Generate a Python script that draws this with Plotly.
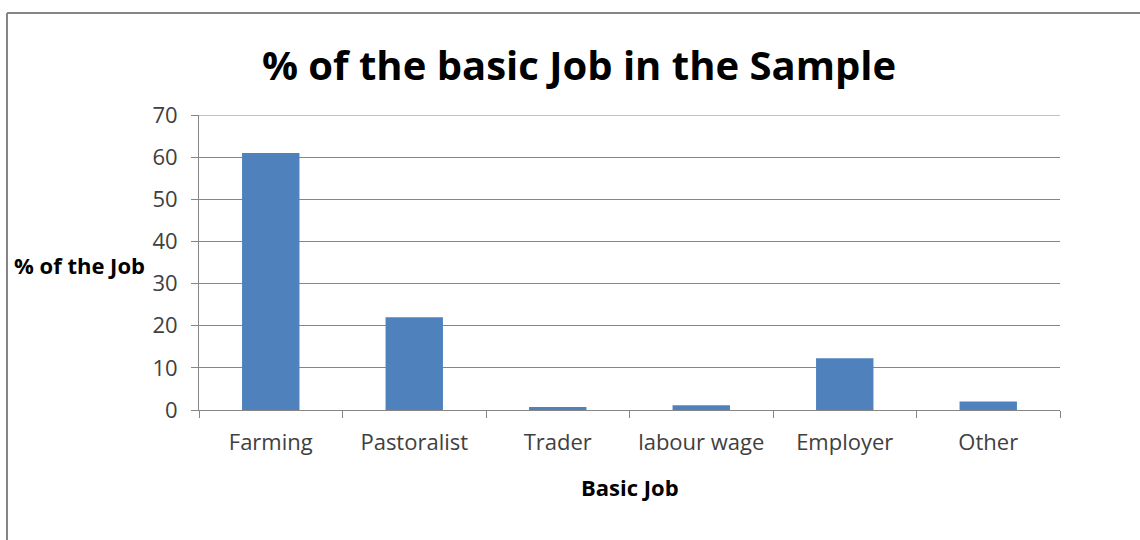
import plotly.graph_objects as go

# Share of each basic job in the sample (%)
jobs = ["Farming", "Pastoralist", "Trader", "labour wage", "Employer", "Other"]
shares = [61.0, 22.0, 0.7, 1.1, 12.3, 2.0]
y_ticks = [0, 10, 20, 30, 40, 50, 60, 70]

W, H = 1140, 540
L, R, T, B = 199, 80, 115, 130
pw, ph = W - L - R, H - T - B

def px_x(x):
    return (x - L) / pw

def px_y(y):
    return (H - B - y) / ph

font_family = "'Open Sans', Lato, sans-serif"
grey = "#868686"

fig = go.Figure(
    go.Bar(
        x=jobs,
        y=shares,
        marker=dict(color="#4f81bd", line=dict(color="#4f81bd", width=0)),
    )
)

fig.update_layout(
    width=W,
    height=H,
    margin=dict(l=L, r=R, t=T, b=B),
    paper_bgcolor="white",
    plot_bgcolor="white",
    bargap=0.6,
    showlegend=False,
    font=dict(family=font_family, color="#404040", size=20),
    title=dict(
        text="<b>% of the basic Job in the Sample</b>",
        x=579 / W,
        xanchor="center",
        y=1 - 66 / H,
        yanchor="middle",
        font=dict(size=40, color="black", family=font_family),
    ),
)

fig.update_yaxes(
    range=[0, 70],
    tickvals=y_ticks,
    showgrid=True,
    gridcolor=grey,
    gridwidth=1,
    showline=True,
    linecolor=grey,
    linewidth=1,
    ticks="outside",
    ticklen=7,
    tickcolor=grey,
    ticklabelstandoff=9,
    tickfont=dict(size=22, color="#404040"),
    zeroline=False,
    fixedrange=True,
)

fig.update_xaxes(
    showline=True,
    linecolor=grey,
    linewidth=1,
    ticks="outside",
    tickson="boundaries",
    ticklen=7,
    tickcolor=grey,
    ticklabelstandoff=13,
    tickfont=dict(size=22, color="#404040"),
    fixedrange=True,
)

# Top gridline (with its tick) at the axis maximum
fig.add_shape(type="line", xref="paper", yref="y",
              x0=px_x(L - 7), x1=1, y0=y_ticks[-1], y1=y_ticks[-1],
              line=dict(color=grey, width=1), layer="below")

# Axis titles
fig.add_annotation(
    text="<b>% of the Job</b>",
    xref="paper", yref="paper",
    x=px_x(12), y=px_y(265),
    xanchor="left", yanchor="middle",
    showarrow=False,
    font=dict(size=22, color="black", family=font_family),
)
fig.add_annotation(
    text="<b>Basic Job</b>",
    xref="paper", yref="paper",
    x=px_x(630), y=px_y(487),
    xanchor="center", yanchor="middle",
    showarrow=False,
    font=dict(size=22, color="black", family=font_family),
)

# Chart frame (top and left edges)
fig.add_shape(type="line", xref="paper", yref="paper",
              x0=px_x(7), x1=px_x(1145), y0=px_y(13), y1=px_y(13),
              line=dict(color=grey, width=2))
fig.add_shape(type="line", xref="paper", yref="paper",
              x0=px_x(7), x1=px_x(7), y0=px_y(13), y1=px_y(545),
              line=dict(color=grey, width=2))

fig.write_html("out.html")
